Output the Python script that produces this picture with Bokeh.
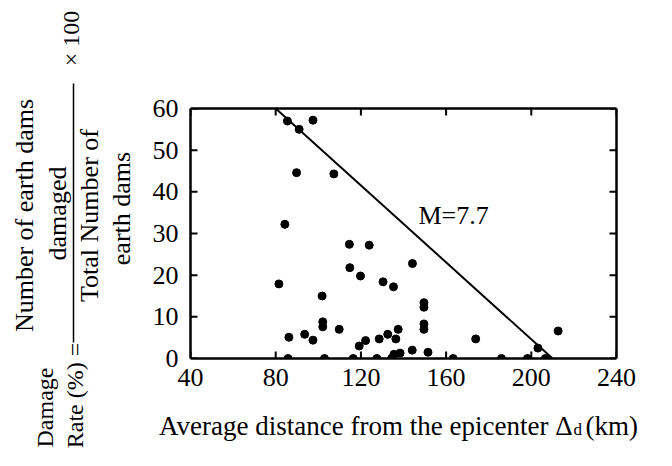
import numpy as np
from bokeh.plotting import figure
from bokeh.models import Range1d, LinearAxis, FixedTicker
from bokeh.layouts import row, column
from bokeh.core.properties import value
from bokeh.embed import file_html
from bokeh.resources import INLINE

# ---- data ----
dist_km = [85.5, 91.0, 97.5, 89.8, 107.3, 84.3, 81.5, 114.6, 123.9, 114.8,
           119.8, 130.4, 135.3, 101.8, 102.1, 102.1, 109.8, 86.2, 93.6, 97.5,
           119.2, 122.2, 128.6, 132.6, 136.4, 137.5, 135.5, 138.4, 144.2, 144.1,
           149.6, 149.6, 149.6, 149.6, 151.5, 173.9, 203.1, 212.6,
           85.8, 102.9, 116.4, 127.5, 134.4, 163.3, 186.0, 198.2, 206.6]
damage_rate = [57.0, 55.0, 57.2, 44.6, 44.3, 32.2, 17.9, 27.4, 27.2, 21.8,
               19.8, 18.4, 17.2, 15.0, 8.8, 7.6, 7.0, 5.1, 5.8, 4.4,
               3.0, 4.3, 4.7, 5.8, 4.7, 7.0, 1.0, 1.3, 22.8, 2.0,
               13.4, 12.3, 8.3, 7.0, 1.5, 4.7, 2.5, 6.6,
               0, 0, 0, 0, 0, 0, 0, 0, 0]
bound_x = [80, 210]
bound_y = [60, 0]
bound_label = "M=7.7"
x_ticks = [40, 80, 120, 160, 200, 240]
y_ticks = [0, 10, 20, 30, 40, 50, 60]
x_title = "Average distance from the epicenter \u0394"
x_title_sub = "d"
x_title_unit = "(km)"
y_title_lines = ["Number of earth dams", "damaged", "Total Number of", "earth dams",
                 "\u00d7 100", "Rate (%) =", "Damage"]

FONT = "Liberation Serif"
LEFT_W = 140
TOTAL_W, TOTAL_H = 656, 450
MAIN_W = TOTAL_W - LEFT_W
BL, BR, BT, BB = 50, 40, 108, 44
MAIN_H = BT + 250 + BB
BOT_H = TOTAL_H - MAIN_H


def bare(fig):
    fig.xgrid.visible = False
    fig.ygrid.visible = False
    fig.outline_line_color = None
    fig.background_fill_color = "white"
    fig.border_fill_color = "white"
    if "frame_align" in fig.properties():
        fig.frame_align = False


# ---- main plot ----
p = figure(width=MAIN_W, height=MAIN_H, output_backend="svg", toolbar_location=None,
           x_range=Range1d(40, 240), y_range=Range1d(0, 60),
           min_border_left=BL, min_border_right=BR, min_border_top=BT, min_border_bottom=BB,
           x_axis_location=None, y_axis_location=None)
bare(p)


def style_axis(ax, ticks, labels=True, standoff=8):
    ax.ticker = FixedTicker(ticks=ticks)
    ax.axis_line_width = 2.5
    ax.axis_line_color = "black"
    ax.major_tick_in = 0
    ax.major_tick_out = 0
    ax.minor_tick_line_color = None
    ax.major_label_text_font = FONT
    ax.major_label_text_font_size = "26px"
    ax.major_label_text_color = "black"
    ax.major_label_standoff = standoff
    if not labels:
        ax.major_label_text_font_size = "0px"
        ax.major_label_text_color = None


bx = LinearAxis(); style_axis(bx, x_ticks, True, 10)
lx = LinearAxis(); style_axis(lx, y_ticks, True, 12)
tx = LinearAxis(); style_axis(tx, x_ticks, False)
rx = LinearAxis(); style_axis(rx, y_ticks, False)
p.add_layout(bx, "below")
p.add_layout(lx, "left")
p.add_layout(tx, "above")
p.add_layout(rx, "right")

# inward tick marks
TL = 7
p.ray(x=x_ticks, y=[0] * len(x_ticks), length=TL, length_units="screen", angle=np.pi / 2,
      line_color="black", line_width=2)
p.ray(x=x_ticks, y=[60] * len(x_ticks), length=TL, length_units="screen", angle=-np.pi / 2,
      line_color="black", line_width=2)
p.ray(x=[40] * len(y_ticks), y=y_ticks, length=TL, length_units="screen", angle=0,
      line_color="black", line_width=2)
p.ray(x=[240] * len(y_ticks), y=y_ticks, length=TL, length_units="screen", angle=np.pi,
      line_color="black", line_width=2)

p.line(bound_x, bound_y, line_color="black", line_width=2)
p.scatter(dist_km, damage_rate, size=8, color="black")
p.text(x=[147], y=[34.3], text=[bound_label], text_font=value(FONT), text_font_size="26px",
       text_align="left", text_baseline="middle", text_color="black")

# ---- left panel: rotated y-axis formula ----
pl = figure(width=LEFT_W, height=TOTAL_H, output_backend="svg", toolbar_location=None,
            x_range=Range1d(0, LEFT_W), y_range=Range1d(0, TOTAL_H), min_border=0,
            x_axis_location=None, y_axis_location=None)
bare(pl)
pos = [(24, 215, "26px"), (57, 213, "26px"), (89, 215, "26px"), (121, 208, "26px"),
       (70, 38, "24px"), (74, 395, "24px"), (44, 407, "24px")]
for txt, (cx, cy, fs) in zip(y_title_lines, pos):
    pl.text(x=[cx], y=[TOTAL_H - cy], text=[txt], angle=np.pi / 2, text_font=value(FONT),
            text_font_size=fs, text_align="center", text_baseline="middle",
            text_color="black")
pl.line([73, 73], [TOTAL_H - 83, TOTAL_H - 342], line_color="black", line_width=1.5)

# ---- bottom panel: x-axis title ----
pb = figure(width=MAIN_W, height=BOT_H, output_backend="svg", toolbar_location=None,
            x_range=Range1d(LEFT_W, TOTAL_W), y_range=Range1d(0, BOT_H), min_border=0,
            x_axis_location=None, y_axis_location=None)
bare(pb)
base = BOT_H - (425 - MAIN_H)
pb.text(x=[572], y=[base], text=[x_title], text_font=value(FONT), text_font_size="27px",
        text_align="right", text_baseline="alphabetic", text_color="black")
pb.text(x=[573], y=[base - 4], text=[x_title_sub], text_font=value(FONT), text_font_size="17px",
        text_align="left", text_baseline="alphabetic", text_color="black")
pb.text(x=[585], y=[base], text=[x_title_unit], text_font=value(FONT), text_font_size="27px",
        text_align="left", text_baseline="alphabetic", text_color="black")

layout = row(pl, column(p, row(pb)))
open("out.html", "w").write(file_html(layout, INLINE))
